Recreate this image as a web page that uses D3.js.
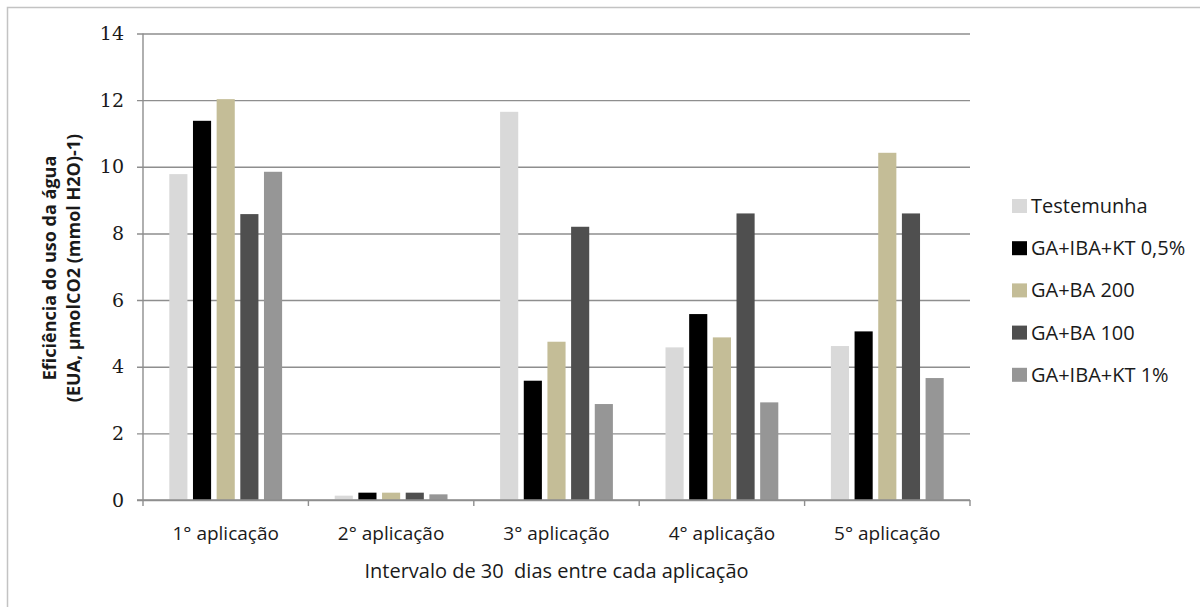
<!DOCTYPE html>
<html>
<head>
<meta charset="utf-8">
<script src="https://cdn.jsdelivr.net/npm/d3@7"></script>
<style>
  html, body { margin: 0; padding: 0; background: #ffffff; }
  svg { display: block; }
</style>
</head>
<body>
<svg id="chart" width="1200" height="607"></svg>
<script>
// Categories (applications) and treatment series
const categories = ["1° aplicação", "2° aplicação", "3° aplicação", "4° aplicação", "5° aplicação"];
const seriesNames = ["Testemunha", "GA+IBA+KT 0,5%", "GA+BA 200", "GA+BA 100", "GA+IBA+KT 1%"];
const testemunha = [9.78, 0.13, 11.65, 4.58, 4.62];
const gaIbaKt05 = [11.38, 0.22, 3.58, 5.58, 5.06];
const gaBa200 = [12.03, 0.22, 4.75, 4.88, 10.42];
const gaBa100 = [8.58, 0.22, 8.2, 8.6, 8.6];
const gaIbaKt1 = [9.85, 0.17, 2.88, 2.93, 3.66];
const yTicks = [0, 2, 4, 6, 8, 10, 12, 14];
const seriesColors = ["#d9d9d9", "#000000", "#c4bd97", "#4f4f4f", "#969696"];

const seriesValues = [testemunha, gaIbaKt05, gaBa200, gaBa100, gaIbaKt1];
const rows = categories.map((c, i) => ({
  category: c,
  values: seriesNames.map((s, j) => ({ series: s, value: seriesValues[j][i], color: seriesColors[j] }))
}));

const svg = d3.select("#chart");
const plot = { left: 143, right: 970, top: 33.5, bottom: 500 };
const textColor = "#1a1a1a";
const sansFont = "'Open Sans', 'DejaVu Sans', sans-serif";

// Outer chart frame
svg.append("rect")
  .attr("x", 7.5).attr("y", 7.5)
  .attr("width", 1400).attr("height", 800)
  .attr("fill", "none")
  .attr("stroke", "#c3c3c3")
  .attr("stroke-width", 1.5);

const x0 = d3.scaleBand().domain(categories).range([plot.left, plot.right]).padding(0);
const groupPad = 26.3;
const x1 = d3.scaleBand().domain(seriesNames)
  .range([groupPad, x0.bandwidth() - groupPad])
  .paddingInner(0.234).paddingOuter(0);
const y = d3.scaleLinear().domain([0, 14]).range([plot.bottom, plot.top]);

const gridColor = "#8e8e8e";

// Horizontal gridlines with left tick marks
const yAxis = d3.axisLeft(y).tickValues(yTicks)
  .tickSize(0).tickFormat(d3.format("d"));
const gy = svg.append("g")
  .attr("transform", `translate(${plot.left - 6},0)`)
  .call(yAxis);
gy.select(".domain").remove();
gy.selectAll(".tick line")
  .attr("stroke", gridColor).attr("stroke-width", 1.4)
  .attr("x1", 0).attr("x2", plot.right - plot.left + 6);
gy.selectAll(".tick text")
  .attr("x", -13)
  .attr("fill", textColor)
  .style("font-family", "'DejaVu Serif', 'Liberation Serif', serif")
  .style("font-size", "19px");

// Vertical axis line
svg.append("line")
  .attr("x1", plot.left).attr("x2", plot.left)
  .attr("y1", plot.top).attr("y2", plot.bottom)
  .attr("stroke", gridColor).attr("stroke-width", 1.4);

// Bars
const groups = svg.append("g").selectAll("g")
  .data(rows).join("g")
  .attr("transform", d => `translate(${x0(d.category)},0)`);
groups.selectAll("rect")
  .data(d => d.values).join("rect")
  .attr("x", d => x1(d.series))
  .attr("width", x1.bandwidth())
  .attr("y", d => y(d.value))
  .attr("height", d => y(0) - y(d.value))
  .attr("fill", d => d.color);

// Category axis with boundary ticks
const boundaries = categories.map(c => x0(c)).concat([plot.right]);
svg.append("line")
  .attr("x1", plot.left - 6).attr("x2", plot.right)
  .attr("y1", plot.bottom).attr("y2", plot.bottom)
  .attr("stroke", gridColor).attr("stroke-width", 1.4);
svg.append("g").selectAll("line")
  .data(boundaries).join("line")
  .attr("x1", d => d).attr("x2", d => d)
  .attr("y1", plot.bottom).attr("y2", plot.bottom + 6)
  .attr("stroke", gridColor).attr("stroke-width", 1.4);

svg.append("g").selectAll("text")
  .data(categories).join("text")
  .attr("x", d => x0(d) + x0.bandwidth() / 2)
  .attr("y", 540)
  .attr("text-anchor", "middle")
  .attr("fill", textColor)
  .style("font-family", sansFont)
  .style("font-size", "19px")
  .text(d => d);

// Axis titles
svg.append("text")
  .attr("x", (plot.left + plot.right) / 2)
  .attr("y", 578)
  .attr("text-anchor", "middle")
  .attr("fill", textColor)
  .style("font-family", sansFont)
  .style("font-size", "20px")
  .style("white-space", "pre")
  .text("Intervalo de 30  dias entre cada aplicação");

const yTitle = svg.append("text")
  .attr("transform", "translate(0,268) rotate(-90)")
  .attr("text-anchor", "middle")
  .attr("fill", textColor)
  .style("font-family", sansFont)
  .style("font-size", "18px")
  .style("font-weight", "bold");
yTitle.append("tspan").attr("x", 0).attr("y", 56).text("Eficiência do uso da água");
yTitle.append("tspan").attr("x", 0).attr("y", 80).text("(EUA, µmolCO2 (mmol H2O)-1)");

// Legend
const legend = svg.append("g").selectAll("g")
  .data(seriesNames).join("g")
  .attr("transform", (d, i) => `translate(1012,${206 + i * 42.2})`);
legend.append("rect")
  .attr("x", 0).attr("y", -7)
  .attr("width", 15).attr("height", 14)
  .attr("fill", (d, i) => seriesColors[i]);
legend.append("text")
  .attr("x", 19).attr("y", 7)
  .attr("fill", textColor)
  .style("font-family", sansFont)
  .style("font-size", "20px")
  .text(d => d);
</script>
</body>
</html>
